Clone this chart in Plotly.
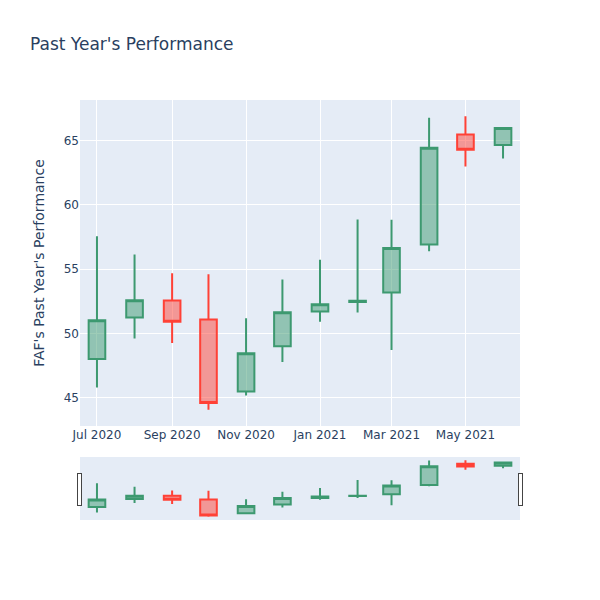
import plotly.graph_objects as go

dates = ["2020-07-01", "2020-08-01", "2020-09-01", "2020-10-01", "2020-11-01", "2020-12-01",
         "2021-01-01", "2021-02-01", "2021-03-01", "2021-04-01", "2021-05-01", "2021-06-01"]
opens = [48.0, 51.23, 52.56, 51.08, 45.47, 49.0, 51.7, 52.45, 53.18, 56.92, 65.49, 64.66]
highs = [57.57, 56.14, 54.69, 54.61, 51.18, 54.19, 55.73, 58.87, 58.84, 66.79, 66.9, 65.99]
lows = [45.78, 49.6, 49.26, 44.06, 45.16, 47.78, 50.9, 51.62, 48.71, 56.4, 63.0, 63.62]
closes = [51.03, 52.58, 50.9, 44.58, 48.45, 51.65, 52.27, 52.55, 56.64, 64.45, 64.3, 65.99]

fig = go.Figure(go.Candlestick(x=dates, open=opens, high=highs, low=lows, close=closes))
fig.update_layout(
    title="Past Year's Performance",
    yaxis_title="FAF's Past Year's Performance",
    width=600, height=600,
    font=dict(family="DejaVu Sans", color="#2a3f5f"),
)
fig.write_html("out.html", config={"displayModeBar": False},
               post_script="document.body.style.margin='0';")
